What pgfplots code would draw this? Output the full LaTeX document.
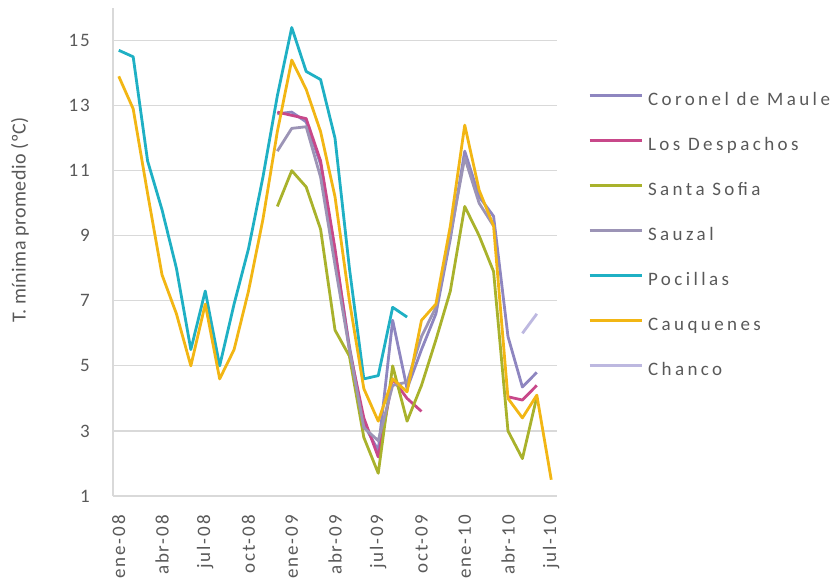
\documentclass[border=0pt]{standalone}
\usepackage{pgfplots}
\pgfplotsset{compat=1.18}
\usepackage{fontspec}
\setmainfont{Carlito}
\newfontfamily\lgfont[LetterSpace=18]{Carlito}
\newfontfamily\tkfont[LetterSpace=10]{Carlito}
\newfontfamily\ylfont[LetterSpace=2]{Carlito}

\definecolor{txtgray}{HTML}{595959}
\definecolor{gridgray}{HTML}{D9D9D9}
\definecolor{cMaule}{HTML}{8E86C0}
\definecolor{cDesp}{HTML}{C8488A}
\definecolor{cSofia}{HTML}{A9B22C}
\definecolor{cSauzal}{HTML}{9C94B6}
\definecolor{cPoc}{HTML}{1FB0C4}
\definecolor{cCauq}{HTML}{F2B614}
\definecolor{cChanco}{HTML}{BDB8E0}

\begin{document}
\begin{tikzpicture}
\useasboundingbox (-113bp,-92bp) rectangle (725bp,496bp);
\begin{axis}[
  scale only axis,
  width=444bp, height=488bp,
  xmin=-0.4, xmax=30.4,
  ymin=1, ymax=16,
  axis lines*=left,
  axis line style={gridgray, line width=1.2bp},
  major tick length=0pt,
  ymajorgrids,
  grid style={gridgray, line width=1.2bp},
  ytick={1,3,5,7,9,11,13,15},
  yticklabels={1,3,5,7,9,11,13,15},
  xtick={0,3,6,9,12,15,18,21,24,27,30},
  xticklabels={ene-08,abr-08,jul-08,oct-08,ene-09,abr-09,jul-09,oct-09,ene-10,abr-10,jul-10},
  yticklabel style={inner sep=0pt, anchor=east, xshift=-23bp, font=\tkfont\fontsize{19bp}{21bp}\selectfont, text=txtgray},
  xticklabel style={inner sep=0pt, yshift=-19bp, rotate=90, anchor=east, font=\tkfont\fontsize{19bp}{21bp}\selectfont, text=txtgray},
  ylabel={T. mínima promedio (ºC)},
  every axis y label/.style={at={(rel axis cs:0,0.566)}, xshift=-93bp, rotate=90, anchor=center, font=\ylfont\fontsize{20bp}{22bp}\selectfont, text=txtgray},
  unbounded coords=jump,
  every axis plot/.append style={line width=2.8bp, line join=round},
  legend cell align=left,
  legend style={at={(rel axis cs:1.07,0.828)}, anchor=north west, draw=none, fill=none,
    inner sep=0pt, row sep=28bp, column sep=5bp,
    font=\lgfont\fontsize{19bp}{21bp}\selectfont, text=txtgray,
    nodes={inner sep=0pt, text height=13bp, text depth=4bp}},
  legend image code/.code={\draw[#1, line width=2.8bp] (0bp,5bp) -- (52bp,5bp);},
]
% Coronel de Maule
\addplot[cMaule] coordinates {
 (11,12.75) (12,12.8) (13,12.5) (14,11.2) (15,8.5) (16,5.6) (17,3.2) (18,2.4)
 (19,6.4) (20,4.3) (21,5.5) (22,6.6) (23,8.9) (24,11.6) (25,10.2) (26,9.6)
 (27,5.9) (28,4.35) (29,4.8)};
\addlegendentry{Coronel de Maule}
% Los Despachos
\addplot[cDesp] coordinates {
 (11,12.8) (12,12.7) (13,12.6) (14,11.3) (15,8.6) (16,5.5) (17,3.4) (18,2.2)
 (19,4.6) (20,4.0) (21,3.6) (22,nan) (27,4.05) (28,3.95) (29,4.4)};
\addlegendentry{Los Despachos}
% Santa Sofia
\addplot[cSofia] coordinates {
 (11,9.9) (12,11.0) (13,10.5) (14,9.2) (15,6.1) (16,5.3) (17,2.8) (18,1.7)
 (19,5.0) (20,3.3) (21,4.4) (22,5.8) (23,7.3) (24,9.9) (25,9.0) (26,7.9)
 (27,3.0) (28,2.15) (29,4.05)};
\addlegendentry{Santa Sofia}
% Sauzal
\addplot[cSauzal] coordinates {
 (11,11.6) (12,12.3) (13,12.35) (14,10.8) (15,8.1) (16,5.5) (17,3.1) (18,2.7)
 (19,4.4) (20,4.5) (21,5.9) (22,6.8) (23,9.0) (24,11.4) (25,10.0) (26,9.3)};
\addlegendentry{Sauzal}
% Pocillas
\addplot[cPoc] coordinates {
 (0,14.7) (1,14.5) (2,11.3) (3,9.8) (4,8.0) (5,5.5) (6,7.3) (7,5.0)
 (8,6.9) (9,8.6) (10,10.8) (11,13.3) (12,15.4) (13,14.05) (14,13.8) (15,12.0)
 (16,8.0) (17,4.6) (18,4.7) (19,6.8) (20,6.5)};
\addlegendentry{Pocillas}
% Cauquenes
\addplot[cCauq] coordinates {
 (0,13.9) (1,12.9) (2,10.3) (3,7.8) (4,6.6) (5,5.0) (6,6.9) (7,4.6)
 (8,5.5) (9,7.3) (10,9.5) (11,12.2) (12,14.4) (13,13.5) (14,12.2) (15,10.2)
 (16,7.0) (17,4.3) (18,3.3) (19,4.6) (20,4.2) (21,6.4) (22,6.9) (23,9.3)
 (24,12.4) (25,10.4) (26,9.3) (27,4.0) (28,3.4) (29,4.1) (30,1.5)};
\addlegendentry{Cauquenes}
% Chanco
\addplot[cChanco] coordinates {(28,6.0) (29,6.6)};
\addlegendentry{Chanco}
\end{axis}
\end{tikzpicture}
\end{document}
